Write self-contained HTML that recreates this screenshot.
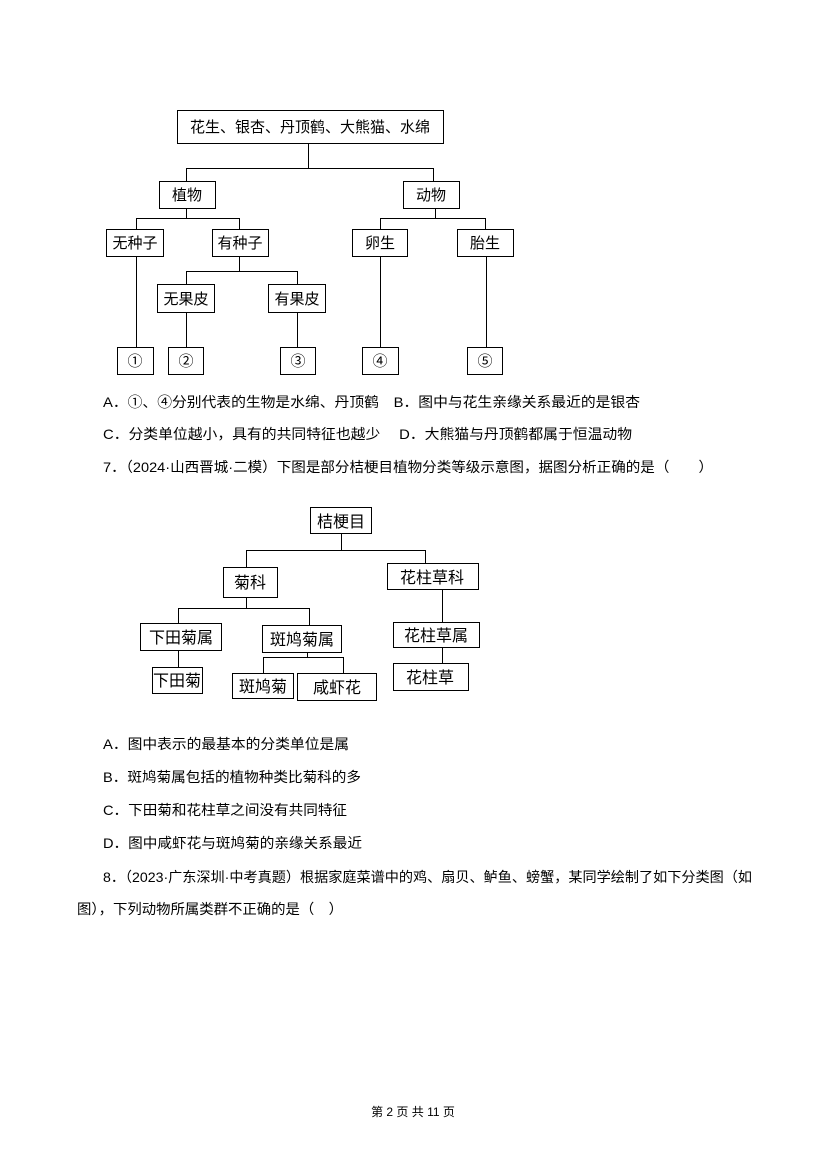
<!DOCTYPE html>
<html><head><meta charset="utf-8"><style>
html,body{margin:0;padding:0;background:#fff}
svg{display:block}
text{font-family:"Liberation Sans","Noto Sans CJK SC",sans-serif;fill:#000}
</style></head><body>
<svg width="827" height="1169" viewBox="0 0 827 1169" xmlns="http://www.w3.org/2000/svg">
<g fill="none" stroke="#000" stroke-width="1">
<rect x="177.5" y="110.5" width="266" height="33"/>
<path d="M308.5 143V168.5M186.5 168.5H433.5M186.5 168V181M433.5 168V181"/>
<rect x="159.5" y="181.5" width="56" height="27"/>
<rect x="403.5" y="181.5" width="56" height="27"/>
<path d="M186.5 208V218.5M136.5 218.5H239.5M136.5 218V229M239.5 218V229"/>
<path d="M435.5 208V218.5M380.5 218.5H485.5M380.5 218V229M485.5 218V229"/>
<rect x="106.5" y="229.5" width="57" height="27"/>
<rect x="212.5" y="229.5" width="56" height="27"/>
<rect x="352.5" y="229.5" width="55" height="27"/>
<rect x="457.5" y="229.5" width="56" height="27"/>
<path d="M239.5 256V271.5M186.5 271.5H297.5M186.5 271V284M297.5 271V284"/>
<rect x="157.5" y="284.5" width="57" height="28"/>
<rect x="268.5" y="284.5" width="57" height="28"/>
<path d="M136.5 256V347M186.5 312V347M297.5 312V347M380.5 256V347M486.5 256V347"/>
<rect x="117.5" y="347.5" width="36" height="27"/>
<rect x="168.5" y="347.5" width="35" height="27"/>
<rect x="280.5" y="347.5" width="35" height="27"/>
<rect x="362.5" y="347.5" width="36" height="27"/>
<rect x="467.5" y="347.5" width="35" height="27"/>
<rect x="310.5" y="507.5" width="61" height="26"/>
<path d="M341.5 533V550.5M246.5 550.5H425.5M246.5 550V567M425.5 550V563"/>
<rect x="223.5" y="567.5" width="54" height="30"/>
<rect x="387.5" y="563.5" width="91" height="26"/>
<path d="M246.5 597V608.5M178.5 608.5H309.5M178.5 608V623M309.5 608V625"/>
<rect x="140.5" y="623.5" width="81" height="27"/>
<rect x="262.5" y="625.5" width="79" height="27"/>
<path d="M442.5 589V622M442.5 647V663"/>
<rect x="393.5" y="622.5" width="86" height="25"/>
<rect x="393.5" y="663.5" width="75" height="27"/>
<path d="M178.5 650V667"/>
<rect x="152.5" y="667.5" width="50" height="26"/>
<path d="M307.5 652V657.5M263.5 657.5H343.5M263.5 657V673M343.5 657V673"/>
<rect x="232.5" y="673.5" width="61" height="25"/>
<rect x="297.5" y="673.5" width="79" height="27"/>
</g>
<g font-size="15" text-anchor="middle">
<text x="310" y="132">花生、银杏、丹顶鹤、大熊猫、水绵</text>
<text x="187" y="200">植物</text>
<text x="431" y="200">动物</text>
<text x="135" y="248">无种子</text>
<text x="240" y="248">有种子</text>
<text x="380" y="248">卵生</text>
<text x="485" y="248">胎生</text>
<text x="186" y="304">无果皮</text>
<text x="297" y="304">有果皮</text>
<text x="135" y="366">①</text>
<text x="186" y="366">②</text>
<text x="298" y="366">③</text>
<text x="380" y="366">④</text>
<text x="485" y="366">⑤</text>
<text x="341" y="527" font-size="16">桔梗目</text>
<text x="250" y="588" font-size="16">菊科</text>
<text x="432" y="583" font-size="16">花柱草科</text>
<text x="181" y="643" font-size="16">下田菊属</text>
<text x="302" y="645" font-size="16">斑鸠菊属</text>
<text x="436" y="641" font-size="16">花柱草属</text>
<text x="430" y="683" font-size="16">花柱草</text>
<text x="177" y="686" font-size="16">下田菊</text>
<text x="263" y="692" font-size="16">斑鸠菊</text>
<text x="337" y="693" font-size="16">咸虾花</text>
</g>
<g font-size="14">
<text x="103" y="407" textLength="537" lengthAdjust="spacingAndGlyphs">A．①、④分别代表的生物是水绵、丹顶鹤　B．图中与花生亲缘关系最近的是银杏</text>
<text x="103" y="439" textLength="529" lengthAdjust="spacingAndGlyphs">C．分类单位越小，具有的共同特征也越少　 D．大熊猫与丹顶鹤都属于恒温动物</text>
<text x="103" y="472" textLength="610" lengthAdjust="spacingAndGlyphs">7．（2024·山西晋城·二模）下图是部分桔梗目植物分类等级示意图，据图分析正确的是（　　）</text>
<text x="103" y="749" textLength="246" lengthAdjust="spacingAndGlyphs">A．图中表示的最基本的分类单位是属</text>
<text x="103" y="782" textLength="258" lengthAdjust="spacingAndGlyphs">B．斑鸠菊属包括的植物种类比菊科的多</text>
<text x="103" y="815" textLength="244" lengthAdjust="spacingAndGlyphs">C．下田菊和花柱草之间没有共同特征</text>
<text x="103" y="848" textLength="259" lengthAdjust="spacingAndGlyphs">D．图中咸虾花与斑鸠菊的亲缘关系最近</text>
<text x="103" y="882" textLength="649" lengthAdjust="spacingAndGlyphs">8．（2023·广东深圳·中考真题）根据家庭菜谱中的鸡、扇贝、鲈鱼、螃蟹，某同学绘制了如下分类图（如</text>
<text x="77" y="914" textLength="266" lengthAdjust="spacingAndGlyphs">图），下列动物所属类群不正确的是（　）</text>
<text x="413" y="1116" font-size="12" text-anchor="middle">第 2 页 共 11 页</text>
</g>
</svg>
</body></html>
